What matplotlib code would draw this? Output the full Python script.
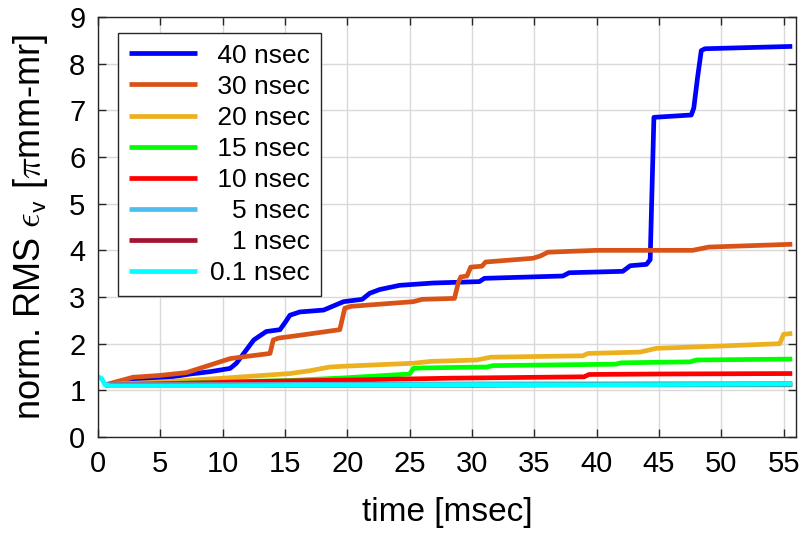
import matplotlib
matplotlib.use("Agg")
import matplotlib.pyplot as plt

plt.rcParams['font.family'] = ['Liberation Sans', 'DejaVu Sans']
plt.rcParams['mathtext.fontset'] = 'cm'

# Emittance growth per bunch length (time in msec, normalized RMS emittance)
t_40 = [0.6, 3.0, 5.0, 7.4, 9.0, 10.6, 11.1, 12.5, 13.5, 14.6, 15.0, 15.4, 16.2, 18.1,
        19.7, 21.2, 21.8, 22.6, 24.2, 26.9, 30.6, 31.0, 37.3, 37.8, 42.1, 42.7, 44.0,
        44.3, 44.6, 47.6, 47.8, 48.1, 48.4, 48.7, 55.7]
v_40 = [1.12, 1.20, 1.25, 1.35, 1.40, 1.47, 1.58, 2.08, 2.26, 2.30, 2.45, 2.61, 2.68, 2.72,
        2.90, 2.95, 3.08, 3.16, 3.25, 3.30, 3.33, 3.40, 3.45, 3.52, 3.55, 3.67, 3.70,
        3.80, 6.85, 6.90, 7.05, 7.70, 8.28, 8.32, 8.37]

t_30 = [0.6, 2.8, 5.0, 7.1, 8.5, 10.6, 12.0, 13.8, 14.06, 14.5, 16.2, 19.4, 19.8, 20.3,
        25.3, 26.0, 28.6, 28.9, 29.1, 29.6, 29.9, 30.8, 31.1, 34.9, 35.5, 36.1, 40.0,
        47.7, 49.0, 55.7]
v_30 = [1.12, 1.28, 1.32, 1.38, 1.50, 1.68, 1.73, 1.79, 2.08, 2.12, 2.18, 2.30, 2.76, 2.80,
        2.90, 2.95, 2.97, 3.30, 3.43, 3.45, 3.64, 3.66, 3.75, 3.83, 3.88, 3.96, 4.00,
        4.00, 4.07, 4.13]

t_20 = [0.6, 5.0, 10.0, 15.4, 17.0, 18.6, 20.0, 25.3, 26.7, 30.4, 31.5, 38.9, 39.3,
        43.5, 44.8, 50.0, 54.7, 55.0, 55.7]
v_20 = [1.12, 1.18, 1.26, 1.36, 1.42, 1.50, 1.52, 1.58, 1.62, 1.65, 1.71, 1.74, 1.79,
        1.82, 1.90, 1.95, 2.00, 2.20, 2.22]

t_15 = [0.6, 5.0, 10.0, 15.4, 20.0, 25.0, 25.3, 26.0, 31.2, 31.7, 41.5, 42.0, 47.5, 48.0, 55.7]
v_15 = [1.12, 1.14, 1.18, 1.21, 1.27, 1.35, 1.47, 1.48, 1.50, 1.53, 1.56, 1.59, 1.61, 1.65, 1.67]

t_10 = [0.6, 5.0, 10.0, 13.0, 15.0, 20.0, 28.2, 39.0, 39.4, 45.0, 55.7]
v_10 = [1.12, 1.14, 1.17, 1.19, 1.20, 1.22, 1.26, 1.29, 1.34, 1.35, 1.36]

t_5 = [0.6, 10.0, 20.0, 30.0, 40.0, 55.7]
v_5 = [1.12, 1.12, 1.13, 1.14, 1.14, 1.15]

t_1 = [0.6, 10.0, 20.0, 30.0, 40.0, 55.7]
v_1 = [1.11, 1.10, 1.11, 1.11, 1.12, 1.12]

t_01 = [0.0, 0.3, 0.56, 1.0, 10.0, 20.0, 30.0, 40.0, 55.7]
v_01 = [1.29, 1.25, 1.12, 1.10, 1.10, 1.11, 1.12, 1.12, 1.13]

# legend entries padded with figure/punctuation spaces so they line up on the right
labels = ['\u200840 nsec', '\u200830 nsec', '\u200820 nsec', '\u200815 nsec', '\u200810 nsec',
          '\u2007\u20085 nsec', '\u2007\u20081 nsec', '0.1 nsec']
colors = ['#0000FF', '#D95319', '#EDB120', '#00FF00', '#FF0000',
          '#4DBEEE', '#A2142F', '#00FFFF']
series = [(t_40, v_40), (t_30, v_30), (t_20, v_20), (t_15, v_15), (t_10, v_10),
          (t_5, v_5), (t_1, v_1), (t_01, v_01)]

fig = plt.figure(figsize=(8.04, 5.33), dpi=100)
ax = fig.add_axes([98 / 804, 1 - 437 / 533, 698 / 804, 420 / 533])

for (t, v), c, lab in zip(series, colors, labels):
    ax.plot(t, v, color=c, lw=3.4, label=lab, solid_capstyle='butt')

ax.set_xlim(0, 56)
ax.set_ylim(0, 9)
ax.set_xticks(range(0, 56, 5))
ax.set_yticks(range(0, 10))
ax.grid(True, color='#d9d9d9', lw=1.0)
ax.set_axisbelow(True)
ax.tick_params(direction='in', top=True, right=True, length=6, width=1,
               labelsize=21, pad=9, colors='#262626', labelcolor='black')
for s in ax.spines.values():
    s.set_color('#262626')
    s.set_linewidth(1.0)

ax.set_xlabel('time [msec]', fontsize=24)
ax.set_ylabel(r'norm. RMS $\epsilon_{\mathsf{v}}$ [$\pi$mm-mr]', fontsize=26)
ax.xaxis.set_label_coords(0.5, -0.143)
ax.yaxis.set_label_coords(-0.069, 0.5)

leg = ax.legend(loc='upper left', bbox_to_anchor=((118 - 98) / 698, (437 - 33) / 420),
                borderaxespad=0, fontsize=19, fancybox=False, framealpha=1,
                edgecolor='#262626', handlelength=2.6, handletextpad=0.5,
                labelspacing=0.27, borderpad=0.4)
leg.get_frame().set_linewidth(1.0)

fig.savefig('out.png', dpi=100)
